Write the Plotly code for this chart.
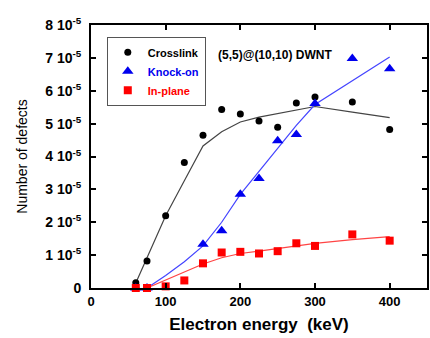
import numpy as np
import plotly.graph_objects as go

# Energies (keV)
energy = [60, 75, 100, 125, 150, 175, 200, 225, 250, 275, 300, 350, 400]

# Measured points (units of 1e-5)
crosslink = [0.16, 0.82, 2.2, 3.82, 4.65, 5.43, 5.29, 5.08, 4.89, 5.63, 5.81, 5.66, 4.82]
knock_on = [0.0, 0.0, None, None, 1.33, 1.74, 2.85, 3.33, 4.48, 4.67, 5.61, 6.98, 6.67]
in_plane = [0.0, 0.0, 0.05, 0.23, 0.75, 1.08, 1.10, 1.05, 1.12, 1.36, 1.28, 1.63, 1.44]

# Fitted curves (units of 1e-5)
fit_cross_x = [60, 75, 100, 125, 150, 175, 200, 225, 250, 275, 300, 350, 400]
fit_cross_y = [0.15, 0.92, 2.2, 3.26, 4.32, 4.75, 5.05, 5.2, 5.3, 5.42, 5.52, 5.35, 5.18]
fit_knock_x = [75, 100, 125, 150, 175, 200, 225, 250, 275, 300, 350, 400]
fit_knock_y = [0.0, 0.38, 0.8, 1.28, 2.0, 2.85, 3.55, 4.25, 4.95, 5.58, 6.3, 7.03]
fit_plane_x = [75, 100, 125, 150, 175, 200, 225, 250, 275, 300, 350, 400]
fit_plane_y = [0.0, 0.25, 0.5, 0.73, 0.92, 1.05, 1.12, 1.2, 1.28, 1.36, 1.47, 1.56]

y_ticks = [0, 1, 2, 3, 4, 5, 6, 7, 8]
y_tick_text = ["0"] + [f"{v} 10<sup>-5</sup>" for v in y_ticks[1:]]
x_ticks = [0, 100, 200, 300, 400]

scale = 1e-5


def sc(vals):
    return [None if v is None else v * scale for v in vals]


FONT = "Liberation Sans, Arial, sans-serif"
BLACK = "#000000"
BLUE = "#0000ee"
RED = "#ff0000"

fig = go.Figure()

# fitted lines
fig.add_trace(go.Scatter(x=fit_cross_x, y=sc(fit_cross_y), mode="lines",
                         line=dict(color="#444444", width=1.2), showlegend=False, hoverinfo="skip"))
fig.add_trace(go.Scatter(x=fit_knock_x, y=sc(fit_knock_y), mode="lines",
                         line=dict(color="#4444ff", width=1.2), showlegend=False, hoverinfo="skip"))
fig.add_trace(go.Scatter(x=fit_plane_x, y=sc(fit_plane_y), mode="lines",
                         line=dict(color="#ff4444", width=1.2), showlegend=False, hoverinfo="skip"))

# markers
fig.add_trace(go.Scatter(x=energy, y=sc(crosslink), mode="markers", name="Crosslink",
                         marker=dict(symbol="circle", size=7, color=BLACK), cliponaxis=False))
fig.add_trace(go.Scatter(x=energy, y=sc(knock_on), mode="markers",
                         name=f"<span style='color:{BLUE}'>Knock-on</span>",
                         marker=dict(symbol="triangle-up", size=10, color=BLUE), cliponaxis=False))
fig.add_trace(go.Scatter(x=energy, y=sc(in_plane), mode="markers",
                         name=f"<span style='color:{RED}'>In-plane</span>",
                         marker=dict(symbol="square", size=8, color=RED), cliponaxis=False))

fig.add_annotation(text="(5,5)@(10,10) DWNT", xref="paper", yref="paper",
                   x=0.548, y=0.886, xanchor="center", yanchor="middle", showarrow=False,
                   font=dict(family=FONT, size=12, color=BLACK, weight="bold"))

axis_common = dict(showgrid=False, zeroline=False, showline=True, linecolor=BLACK,
                   linewidth=2, mirror="ticks", ticks="inside", ticklen=5, tickwidth=1.5,
                   tickcolor=BLACK)

fig.update_xaxes(range=[0, 450], tickvals=x_ticks, ticktext=[str(v) for v in x_ticks],
                 tickfont=dict(family=FONT, size=13, color=BLACK, weight="bold"),
                 title=dict(text="Electron energy  (keV)", standoff=11,
                            font=dict(family=FONT, size=17, color=BLACK, weight="bold")),
                 **axis_common)
fig.update_yaxes(range=[0, 8e-5], tickvals=[v * scale for v in y_ticks], ticktext=y_tick_text,
                 tickfont=dict(family=FONT, size=14, color=BLACK, weight="bold"),
                 ticklabelstandoff=5,
                 title=dict(text="Number of defects", standoff=14,
                            font=dict(family=FONT, size=14, color=BLACK)),
                 **axis_common)

fig.update_layout(
    width=430, height=338,
    margin=dict(l=91, r=1, t=25, b=50),
    paper_bgcolor="white", plot_bgcolor="white",
    font=dict(family=FONT, color=BLACK),
    legend=dict(x=0.047, y=0.955, xanchor="left", yanchor="top",
                bordercolor="#555555", borderwidth=1, bgcolor="white",
                font=dict(family=FONT, size=11, color=BLACK, weight="bold"),
                tracegroupgap=0),
)

fig.write_html("out.html", config={"displayModeBar": False},
               post_script="document.body.style.margin='0';")
